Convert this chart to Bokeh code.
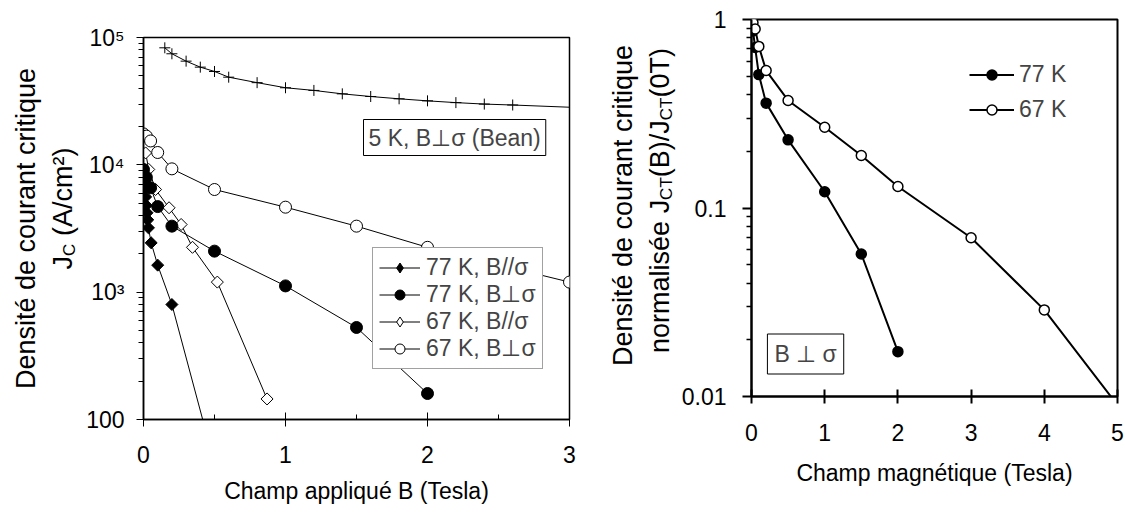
import math
from bokeh.plotting import figure
from bokeh.models import FixedTicker, Legend, LegendItem, Label, Range1d
from bokeh.layouts import row, column
from bokeh.embed import file_html
from bokeh.resources import INLINE

FONT = "Liberation Sans"

# ---------------- left panel data : Jc (A/cm2) vs applied field B (Tesla)
bean_b = [0.15, 0.2, 0.3, 0.4, 0.5, 0.6, 0.8, 1.0, 1.2, 1.4, 1.6, 1.8, 2.0, 2.2, 2.4, 2.6, 3.05]
bean_j = [83000, 74500, 65200, 58500, 54100, 48800, 44200, 40300, 38400, 36100, 34400,
          33000, 31800, 30800, 30000, 29500, 28200]

k77_par_b = [0, 0.005, 0.01, 0.015, 0.02, 0.025, 0.03, 0.035, 0.054, 0.1, 0.2, 0.5]
k77_par_j = [9000, 7800, 6600, 5600, 4800, 4200, 3700, 3200, 2440, 1630, 800, 45]

k77_perp_b = [0, 0.02, 0.05, 0.1, 0.2, 0.5, 1.0, 1.5, 2.0]
k77_perp_j = [9200, 8000, 6600, 4700, 3300, 2100, 1120, 528, 160]

k67_par_b = [0.015, 0.037, 0.085, 0.18, 0.265, 0.345, 0.52, 0.87]
k67_par_j = [12400, 9200, 6400, 4600, 3400, 2250, 1200, 145]

k67_perp_b = [0, 0.02, 0.05, 0.1, 0.2, 0.5, 1.0, 1.5, 2.0, 3.0]
k67_perp_j = [17500, 16800, 15400, 12500, 9300, 6400, 4650, 3300, 2250, 1200]

left_xticks = [0, 1, 2, 3]
left_yticks = [100, 1000, 10000, 100000]
left_ylabels = ["100", "10³", "10⁴", "10⁵"]

# ---------------- right panel data : normalised Jct(B)/Jct(0T) vs B (Tesla)
n77_b = [0, 0.02, 0.05, 0.1, 0.2, 0.5, 1.0, 1.5, 2.0]
n77_r = [1.0, 0.87, 0.71, 0.51, 0.36, 0.23, 0.122, 0.057, 0.0173]
n67_b = [0, 0.02, 0.05, 0.1, 0.2, 0.5, 1.0, 1.5, 2.0, 3.0, 4.0, 5.0]
n67_r = [1.0, 0.96, 0.89, 0.72, 0.536, 0.372, 0.268, 0.19, 0.13, 0.0695, 0.0288, 0.009]

right_xticks = [0, 1, 2, 3, 4, 5]
right_yticks = [0.01, 0.1, 1]
right_ylabels = ["0.01", "0.1", "1"]

# Arial / Liberation Sans advance widths (1/1000 em)
W = {"J": 500, "C": 722, "T": 611, " ": 278, "(": 333, ")": 333, "A": 667, "/": 278,
     "c": 500, "m": 833, "²": 333, "n": 556, "o": 556, "r": 333, "a": 556, "l": 222,
     "i": 222, "s": 500, "é": 556, "e": 556, "B": 667, "0": 556}


def text_w(t, size):
    return sum(W.get(ch, 556) for ch in t) * size / 1000.0


H = 512

# page geometry of the two plot frames
L_LEFT, L_RIGHT, L_TOP, L_BOT = 143, 569, 37, 419
R_LEFT, R_RIGHT, R_TOP, R_BOT = 749, 1117, 19, 396
TL_W = 80              # strip holding the left vertical title
TR_X0, TR_W = 590, 88  # strip holding the right vertical title


def title_strip(x0, width):
    f = figure(width=width, height=H, x_range=Range1d(x0, x0 + width), y_range=Range1d(H, 0),
               x_axis_location=None, y_axis_location=None, output_backend="svg",
               toolbar_location=None, min_border=0, outline_line_color=None)
    f.xgrid.grid_line_color = None
    f.ygrid.grid_line_color = None
    f.background_fill_color = "white"
    f.border_fill_color = "white"
    return f


def rot_label(f, px, py, text, size, align="left", baseline="alphabetic"):
    f.add_layout(Label(x=px, y=py, text=text, angle=math.pi / 2, text_font=FONT,
                       text_font_size=f"{size}px", text_align=align,
                       text_baseline=baseline, text_color="black"))


def seg_len(segs):
    return sum(gap + text_w(t, s) for t, s, dx, gap in segs)


def rot_segments(f, px, py, segs):
    """vertical (bottom-to-top) title made of segments (text, size, dx, gap_before)"""
    for t, size, dx, gap in segs:
        py -= gap
        rot_label(f, px + dx, py, t, size)
        py -= text_w(t, size)


def style_axes(p, tick_px):
    for ax in (p.xaxis[0], p.yaxis[0]):
        ax.major_label_text_font = FONT
        ax.major_label_text_font_size = tick_px
        ax.major_label_text_color = "black"
        ax.axis_label_text_font = FONT
        ax.axis_label_text_font_size = tick_px
        ax.axis_label_text_font_style = "normal"
        ax.axis_label_text_color = "black"
        ax.major_tick_line_color = "black"
        ax.minor_tick_line_color = "black"
    p.xgrid.grid_line_color = None
    p.ygrid.grid_line_color = None
    p.outline_line_color = "black"
    p.background_fill_color = "white"
    p.border_fill_color = "white"


# ======================= LEFT TITLE STRIP =======================
t1 = title_strip(0, TL_W)
rot_label(t1, 25, 228, "Densité de courant critique", 27, "center", "middle")
segL = [("J", 27, 0, 0), ("C", 17, 7, 0), ("(A/cm²)", 27, 0, 7.5)]
rot_segments(t1, 62, 208 + seg_len(segL) / 2, segL)

# ======================= LEFT FIGURE =======================
W1 = TR_X0 - TL_W
p1 = figure(width=W1, height=H, x_range=Range1d(0, 3), y_range=Range1d(100, 1e5),
            y_axis_type="log", output_backend="svg", toolbar_location=None,
            min_border_left=L_LEFT - TL_W, min_border_right=TR_X0 - L_RIGHT,
            min_border_top=L_TOP, min_border_bottom=H - L_BOT)
style_axes(p1, "23px")
p1.outline_line_width = 1.5
p1.xaxis.axis_line_width = 1.5
p1.yaxis.axis_line_width = 1.5
p1.xaxis.ticker = FixedTicker(ticks=left_xticks, minor_ticks=[0.5, 1.5, 2.5])
p1.xaxis.major_tick_in = 7
p1.xaxis.major_tick_out = 7
p1.xaxis.minor_tick_in = 5
p1.xaxis.minor_tick_out = 0
p1.xaxis.major_label_standoff = 19
p1.xaxis.axis_label = "Champ appliqué B (Tesla)"
p1.xaxis.axis_label_standoff = 12
p1.yaxis.ticker = FixedTicker(ticks=left_yticks,
                              minor_ticks=[k * 10 ** e for e in (2, 3, 4) for k in range(2, 10)])
p1.yaxis.major_label_overrides = dict(zip(left_yticks, left_ylabels))
p1.yaxis.major_tick_in = 0
p1.yaxis.major_tick_out = 7
p1.yaxis.minor_tick_in = 0
p1.yaxis.minor_tick_out = 5
p1.yaxis.major_label_standoff = 12

lw = 1
p1.line(bean_b, bean_j, line_color="black", line_width=lw)
p1.scatter(bean_b, bean_j, marker="cross", size=11, line_color="black", line_width=1)

l1 = p1.line(k77_par_b, k77_par_j, line_color="black", line_width=lw)
p1.scatter(k77_par_b, k77_par_j, marker="square", angle=math.pi / 4, size=8.5,
           fill_color="black", line_color="black", line_width=1)
l3 = p1.line(k67_par_b, k67_par_j, line_color="black", line_width=lw)
p1.scatter(k67_par_b, k67_par_j, marker="square", angle=math.pi / 4, size=8.5,
           fill_color="white", line_color="black", line_width=1)
l4 = p1.line(k67_perp_b, k67_perp_j, line_color="black", line_width=lw)
s4 = p1.scatter(k67_perp_b, k67_perp_j, marker="circle", size=12,
                fill_color="white", line_color="black", line_width=1)
l2 = p1.line(k77_perp_b, k77_perp_j, line_color="black", line_width=lw)
s2 = p1.scatter(k77_perp_b, k77_perp_j, marker="circle", size=12,
                fill_color="black", line_color="black", line_width=1)
# hidden diamond renderers, used only for the legend swatches
d1 = p1.scatter(k77_par_b, k77_par_j, marker="diamond", size=12, fill_color="black",
                line_color="black", visible=False)
d3 = p1.scatter(k67_par_b, k67_par_j, marker="diamond", size=12, fill_color="white",
                line_color="black", visible=False)

leg1 = Legend(items=[LegendItem(label="77 K, B//σ", renderers=[l1, d1]),
                     LegendItem(label="77 K, B⊥σ", renderers=[l2, s2]),
                     LegendItem(label="67 K, B//σ", renderers=[l3, d3]),
                     LegendItem(label="67 K, B⊥σ", renderers=[l4, s4])],
              location=(372 - L_LEFT, L_BOT - 369), label_text_font=FONT,
              label_text_font_size="23px", glyph_width=41, glyph_height=25, label_height=25,
              spacing=0, padding=6, margin=0, label_standoff=6, border_line_color="#444",
              border_line_width=1, background_fill_color="white", background_fill_alpha=1,
              inactive_fill_alpha=0)
p1.add_layout(leg1)

p1.add_layout(Label(x=(363 - L_LEFT) / (L_RIGHT - L_LEFT) * 3.0,
                    y=10 ** (5 - 3.0 * (137 - L_TOP) / (L_BOT - L_TOP)),
                    text="5 K, B⊥σ (Bean)", text_font=FONT,
                    text_font_size="23px", text_baseline="middle", text_align="left",
                    padding=5, border_line_color="black", border_line_width=1,
                    background_fill_color="white"))

# ======================= RIGHT TITLE STRIP =======================
t2 = title_strip(TR_X0, TR_W)
rot_label(t2, 622, 205, "Densité de courant critique", 27, "center", "middle")
segR = [("normalisée J", 27, 0, 0), ("CT", 17, 7, 0), ("(B)/J", 27, 0, 0),
        ("CT", 17, 7, 0), ("(0T)", 27, 0, 0)]
rot_segments(t2, 659, 200 + seg_len(segR) / 2, segR)

# ======================= RIGHT FIGURE =======================
X2 = TR_X0 + TR_W
W2 = 1125 - X2
p2 = figure(width=W2, height=H, x_range=Range1d(0, 5), y_range=Range1d(0.01, 1),
            y_axis_type="log", output_backend="svg", toolbar_location=None,
            min_border_left=R_LEFT - X2, min_border_right=1125 - R_RIGHT,
            min_border_top=R_TOP, min_border_bottom=H - R_BOT)
style_axes(p2, "23px")
p2.outline_line_width = 2
p2.xaxis.axis_line_width = 2
p2.yaxis.axis_line_width = 2
p2.xaxis.ticker = FixedTicker(ticks=right_xticks, minor_ticks=[])
p2.xaxis.major_tick_in = 7
p2.xaxis.major_tick_out = 7
p2.xaxis.major_tick_line_width = 2
p2.xaxis.major_label_standoff = 20
p2.xaxis.axis_label = "Champ magnétique (Tesla)"
p2.xaxis.axis_label_standoff = 16
p2.yaxis.ticker = FixedTicker(ticks=right_yticks,
                              minor_ticks=[k * 10.0 ** e for e in (-2, -1) for k in range(2, 10)])
p2.yaxis.major_label_overrides = dict(zip(right_yticks, right_ylabels))
p2.yaxis.major_tick_in = 0
p2.yaxis.major_tick_out = 9
p2.yaxis.minor_tick_in = 0
p2.yaxis.minor_tick_out = 5
p2.yaxis.major_tick_line_width = 2
p2.yaxis.minor_tick_line_width = 1.5
p2.yaxis.major_label_standoff = 16

m1 = p2.line(n77_b, n77_r, line_color="black", line_width=2)
q1 = p2.scatter(n77_b, n77_r, marker="circle", size=10, fill_color="black",
                line_color="black", line_width=1.5)
m2 = p2.line(n67_b, n67_r, line_color="black", line_width=2)
q2 = p2.scatter(n67_b, n67_r, marker="circle", size=10, fill_color="white",
                line_color="black", line_width=1.5)

leg2 = Legend(items=[LegendItem(label="77 K", renderers=[m1, q1]),
                     LegendItem(label="67 K", renderers=[m2, q2])],
              location=(967 - R_LEFT, R_BOT - 123), label_text_font=FONT,
              label_text_font_size="23px", glyph_width=45, glyph_height=25, label_height=25,
              spacing=8, padding=8, margin=0, label_standoff=5, border_line_color=None,
              background_fill_alpha=0)
p2.add_layout(leg2)

p2.add_layout(Label(x=(765 - R_LEFT) / (R_RIGHT - R_LEFT) * 5.0,
                    y=10 ** (-2.0 * (353.5 - R_TOP) / (R_BOT - R_TOP)),
                    text="B ⊥ σ", text_font=FONT,
                    text_font_size="23px", text_baseline="middle", text_align="left",
                    padding=7, border_line_color="black", border_line_width=1,
                    background_fill_color="white"))

layout = row(column(t1), column(p1), column(t2), column(p2))
open("out.html", "w").write(file_html(layout, INLINE))
